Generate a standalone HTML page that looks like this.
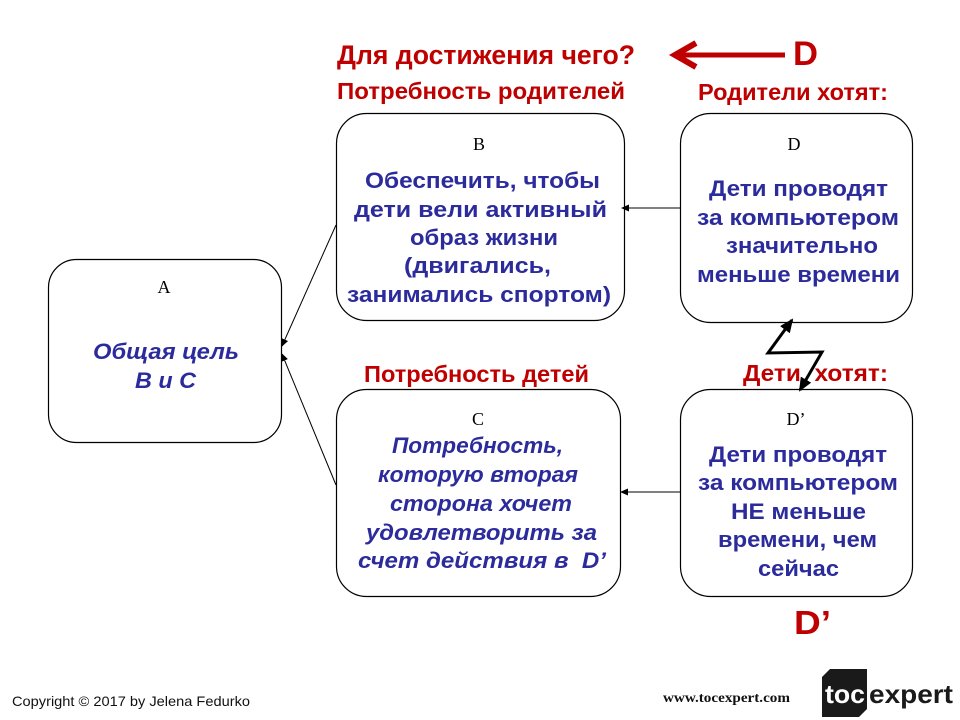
<!DOCTYPE html>
<html><head><meta charset="utf-8"><style>
html,body{margin:0;padding:0;background:#fff;width:960px;height:720px;overflow:hidden}
svg{display:block}
.r{fill:#bf0000;font-family:"Liberation Sans",sans-serif;font-weight:bold}
.b{fill:#2b2b9c;font-family:"Liberation Sans",sans-serif;font-weight:bold;font-size:22px}
.i{font-style:italic}
.t{font-family:"Liberation Serif",serif;font-size:18px;fill:#000}
.box{fill:#fff;stroke:#000;stroke-width:1.2}
</style></head><body>
<svg width="960" height="720" viewBox="0 0 960 720" xmlns="http://www.w3.org/2000/svg">
<defs>
<marker id="ah" markerWidth="8" markerHeight="8" refX="7" refY="4" orient="auto" markerUnits="userSpaceOnUse">
<path d="M0,0.5 L8,4 L0,7.5 Z" fill="#000"/></marker>
<marker id="zh" markerWidth="14" markerHeight="14" refX="12" refY="7" orient="auto-start-reverse" markerUnits="userSpaceOnUse">
<path d="M0,1 L14,7 L0,13 Z" fill="#000"/></marker>
</defs>

<!-- Headings -->
<text class="r" x="337" y="64" font-size="27" textLength="298" lengthAdjust="spacingAndGlyphs">Для достижения чего?</text>
<line x1="785" y1="55" x2="678" y2="55" stroke="#bf0000" stroke-width="5"/>
<polyline points="696,43 675,55 696,67" fill="none" stroke="#bf0000" stroke-width="6" stroke-linejoin="miter"/>
<text class="r" x="793" y="65" font-size="34" textLength="25" lengthAdjust="spacingAndGlyphs">D</text>

<text class="r" x="337" y="99" font-size="23" textLength="288" lengthAdjust="spacingAndGlyphs">Потребность родителей</text>
<text class="r" x="698" y="100" font-size="23" textLength="190" lengthAdjust="spacingAndGlyphs">Родители хотят:</text>
<text class="r" x="364" y="382" font-size="23" textLength="225" lengthAdjust="spacingAndGlyphs">Потребность детей</text>
<text class="r" x="743" y="381" font-size="23" textLength="145" lengthAdjust="spacingAndGlyphs">Дети&#160;&#160;хотят:</text>
<text class="r" x="794" y="634" font-size="33" textLength="37" lengthAdjust="spacingAndGlyphs">D’</text>

<!-- Boxes -->
<rect class="box" x="48.5" y="259.5" width="233" height="183" rx="28"/>
<rect class="box" x="336.5" y="113.5" width="288" height="207" rx="30"/>
<rect class="box" x="680.5" y="113.5" width="232" height="209" rx="30"/>
<rect class="box" x="336.5" y="389.5" width="284" height="207" rx="30"/>
<rect class="box" x="680.5" y="389.5" width="232" height="207" rx="30"/>

<!-- Box labels -->
<text class="t" x="164" y="293" text-anchor="middle">A</text>
<text class="t" x="479" y="150" text-anchor="middle">B</text>
<text class="t" x="794" y="150" text-anchor="middle">D</text>
<text class="t" x="478" y="425" text-anchor="middle">C</text>
<text class="t" x="796" y="425" text-anchor="middle">D’</text>

<!-- A text -->
<text class="b i" x="93" y="359" textLength="146" lengthAdjust="spacingAndGlyphs">Общая цель</text>
<text class="b i" x="135" y="388" textLength="61" lengthAdjust="spacingAndGlyphs">B и C</text>

<!-- B text -->
<text class="b" x="365" y="188" textLength="235" lengthAdjust="spacingAndGlyphs">Обеспечить, чтобы</text>
<text class="b" x="354" y="217" textLength="253" lengthAdjust="spacingAndGlyphs">дети вели активный</text>
<text class="b" x="410" y="245" textLength="148" lengthAdjust="spacingAndGlyphs">образ жизни</text>
<text class="b" x="404" y="273" textLength="147" lengthAdjust="spacingAndGlyphs">(двигались,</text>
<text class="b" x="347" y="302" textLength="264" lengthAdjust="spacingAndGlyphs">занимались спортом)</text>

<!-- D text -->
<text class="b" x="709" y="196" textLength="179" lengthAdjust="spacingAndGlyphs">Дети проводят</text>
<text class="b" x="697" y="225" textLength="202" lengthAdjust="spacingAndGlyphs">за компьютером</text>
<text class="b" x="726" y="253" textLength="152" lengthAdjust="spacingAndGlyphs">значительно</text>
<text class="b" x="697" y="282" textLength="203" lengthAdjust="spacingAndGlyphs">меньше времени</text>

<!-- C text -->
<text class="b i" x="392" y="453" textLength="171" lengthAdjust="spacingAndGlyphs">Потребность,</text>
<text class="b i" x="378" y="482" textLength="200" lengthAdjust="spacingAndGlyphs">которую вторая</text>
<text class="b i" x="390" y="511" textLength="182" lengthAdjust="spacingAndGlyphs">сторона хочет</text>
<text class="b i" x="366" y="540" textLength="231" lengthAdjust="spacingAndGlyphs">удовлетворить за</text>
<text class="b i" x="358" y="568" textLength="248" lengthAdjust="spacingAndGlyphs">счет действия в&#160;&#160;D’</text>

<!-- D' text -->
<text class="b" x="709" y="462" textLength="178" lengthAdjust="spacingAndGlyphs">Дети проводят</text>
<text class="b" x="698" y="490" textLength="200" lengthAdjust="spacingAndGlyphs">за компьютером</text>
<text class="b" x="731" y="519" textLength="135" lengthAdjust="spacingAndGlyphs">НЕ меньше</text>
<text class="b" x="718" y="547" textLength="159" lengthAdjust="spacingAndGlyphs">времени, чем</text>
<text class="b" x="758" y="576" textLength="81" lengthAdjust="spacingAndGlyphs">сейчас</text>

<!-- Connectors -->
<line x1="680" y1="208" x2="622" y2="208" stroke="#000" stroke-width="1" marker-end="url(#ah)"/>
<line x1="680" y1="492" x2="621" y2="492" stroke="#000" stroke-width="1" marker-end="url(#ah)"/>
<line x1="336" y1="225" x2="282" y2="346" stroke="#000" stroke-width="1" marker-end="url(#ah)"/>
<line x1="336" y1="485" x2="282" y2="354" stroke="#000" stroke-width="1" marker-end="url(#ah)"/>

<!-- Zigzag double arrow -->
<polyline points="792,320 768,353 822,352 800,390" fill="none" stroke="#000" stroke-width="3" marker-start="url(#zh)" marker-end="url(#zh)"/>

<!-- Footer -->
<text x="12" y="706" font-family="Liberation Sans, sans-serif" font-size="14" fill="#111" textLength="238" lengthAdjust="spacingAndGlyphs">Copyright © 2017 by Jelena Fedurko</text>
<text x="663" y="702" font-family="Liberation Serif, serif" font-weight="bold" font-size="14" fill="#111" textLength="127" lengthAdjust="spacingAndGlyphs">www.tocexpert.com</text>
<polygon points="830,669 867,669 867,709 859,717 822,717 822,677" fill="#1a1a1a"/>
<text x="825" y="703" font-family="Liberation Sans, sans-serif" font-weight="bold" font-size="26" fill="#fff" textLength="40" lengthAdjust="spacingAndGlyphs">toc</text>
<text x="869" y="703" font-family="Liberation Sans, sans-serif" font-weight="bold" font-size="26" fill="#1a1a1a" textLength="84" lengthAdjust="spacingAndGlyphs">expert</text>
</svg>
</body></html>
